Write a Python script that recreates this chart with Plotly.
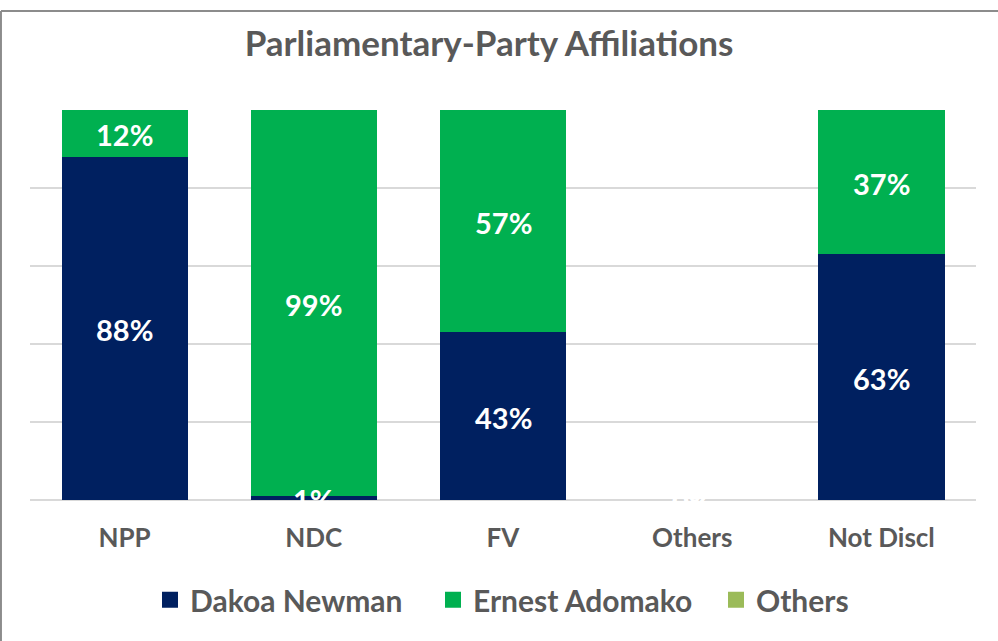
import plotly.graph_objects as go

categories = ["NPP", "NDC", "FV", "Others", "Not Discl"]
dakoa_newman = [0.88, 0.01, 0.43, 0.0, 0.63]
ernest_adomako = [0.12, 0.99, 0.57, 0.0, 0.37]
others = [0.0, 0.0, 0.0, 0.0, 0.0]
series_names = ["Dakoa Newman", "Ernest Adomako", "Others"]
series_colors = ["#002060", "#00B050", "#9BBB59"]

FONT = "Lato"
GRAY = "#595959"
PLOT_H = 390

fig = go.Figure()
series = [dakoa_newman, ernest_adomako, others]
for name, vals, col in zip(series_names, series, series_colors):
    fig.add_trace(go.Bar(
        name=name, x=categories, y=vals,
        marker=dict(color=col, line=dict(width=0)),
        showlegend=False, hoverinfo="x+y+name",
    ))

# data labels (drawn on top of all bars), for the two labelled series
annotations = []
base = [0.0] * len(categories)
for vals in series[:2]:
    for cat, b, v in zip(categories, base, vals):
        annotations.append(dict(
            x=cat, y=b + v / 2, xref="x", yref="y",
            text=f"{round(v*100)}%", showarrow=False, yshift=-1,
            font=dict(family=FONT, size=29, color="white", weight="bold"),
        ))
    base = [b + v for b, v in zip(base, vals)]

# legend entries (square markers)
for name, col in zip(series_names, series_colors):
    fig.add_trace(go.Scatter(
        x=[None], y=[None], mode="markers", name=name,
        marker=dict(symbol="square", size=16, color=col),
        showlegend=True, hoverinfo="skip",
    ))

top_y = 1 + (110 - 11) / PLOT_H
fig.update_layout(
    barmode="stack",
    bargap=0.333,
    width=998, height=641,
    margin=dict(l=30, r=22, t=110, b=141, autoexpand=False),
    paper_bgcolor="white", plot_bgcolor="white",
    title=dict(text="Parliamentary-Party Affiliations", x=0.49, xanchor="center",
               y=1 - 44/641, yanchor="middle",
               font=dict(family=FONT, size=35, color=GRAY, weight="bold")),
    showlegend=True,
    legend=dict(orientation="h", x=(150 - 30) / 946, xanchor="left", y=-0.256, yanchor="middle",
                font=dict(family=FONT, size=30, color=GRAY, weight="bold"),
                itemwidth=30, traceorder="normal", itemsizing="trace",
                entrywidth=238, entrywidthmode="pixels"),
    xaxis=dict(showgrid=False, showline=False, ticks="",
               tickfont=dict(family=FONT, size=26, color=GRAY, weight="bold"),
               ticklabelstandoff=20),
    yaxis=dict(range=[0, 1], dtick=0.2, showticklabels=False, showgrid=True,
               gridcolor="#d9d9d9", gridwidth=1.5, zeroline=True,
               zerolinecolor="#d9d9d9", zerolinewidth=1.5),
    annotations=annotations,
    shapes=[
        dict(type="line", xref="paper", yref="paper", x0=-0.0307, x1=1.03,
             y0=top_y, y1=top_y, line=dict(color="#8c8c8c", width=2)),
        dict(type="line", xref="paper", yref="paper", x0=-0.0307, x1=-0.0307,
             y0=top_y, y1=-0.4, line=dict(color="#8c8c8c", width=2)),
    ],
)

fig.write_html("out.html", config={"displayModeBar": False},
               post_script="document.body.style.margin='0';document.body.style.overflow='hidden';")
